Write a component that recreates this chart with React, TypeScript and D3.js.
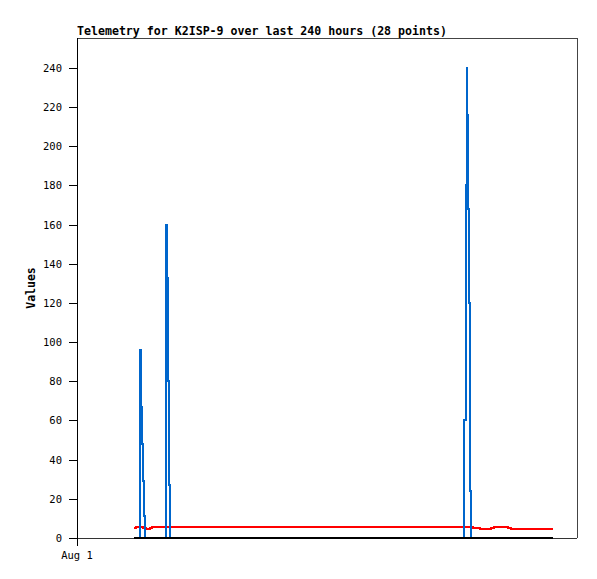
import React from 'react';
import * as d3 from 'd3';

// hours since Aug 1 00:00
const redHours = [32.7, 33.9, 37.9, 39.6, 41.9, 43.1, 227.5, 231.1, 237.8, 239.4, 247.2, 249.1, 273.1];
const redValues = [5.3, 5.8, 5.3, 4.8, 5.3, 5.8, 5.3, 4.6, 5.3, 5.8, 5.3, 4.6, 4.6];

const blueHours = [32.7, 36.0, 36.6, 36.9, 37.3, 37.7, 38.3, 38.9, 51.3, 51.8, 52.2, 52.6, 53.4,
  222.3, 223.1, 223.6, 224.0, 224.3, 224.9, 225.4, 225.8, 226.2, 273.1];
const blueValues = [0, 96, 87, 67, 48, 29, 11, 0, 160, 133, 80, 27, 0,
  60, 180, 240, 216, 168, 120, 72, 24, 0, 0];

const blackHours = [32.7, 273.1];
const blackValues = [0, 0];

const yTicks = [0, 20, 40, 60, 80, 100, 120, 140, 160, 180, 200, 220, 240];
const xTickLabels = ['Aug 1'];
const title = 'Telemetry for K2ISP-9 over last 240 hours (28 points)';

const mono = '"DejaVu Sans Mono", monospace';

const App = () => {
  const left = 77, top = 38, right = 577, bottom = 538;
  const t0 = new Date(2024, 7, 1, 0, 0);
  const toDate = (h: number) => new Date(t0.getTime() + h * 3600000);

  const x = d3.scaleTime().domain([t0, toDate(287)]).range([left, right]);
  const y = d3.scaleLinear().domain([0, 255.3]).range([bottom, top]);

  const line = d3.line<[number, number]>()
    .x(d => x(toDate(d[0])))
    .y(d => y(d[1]))
    .curve(d3.curveStepAfter);

  const zip = (hs: number[], vs: number[]) => hs.map((h, i) => [h, vs[i]] as [number, number]);

  return (
    <svg width={597} height={579} style={{ display: 'block', position: 'absolute', left: 0, top: 0 }}>
      <rect x={0} y={0} width={597} height={579} fill="#fff" />
      <text x={left} y={34.5} fontFamily={mono} fontWeight="bold" fontSize={11.6} fill="#000">{title}</text>
      <text transform={`translate(35,${(top + bottom) / 2}) rotate(-90)`} textAnchor="middle"
        fontFamily={mono} fontWeight="bold" fontSize={11.5} fill="#000">Values</text>

      {/* frame */}
      <path d={`M${left},${top + 0.5}H${right + 0.5}V${bottom}`} fill="none" stroke="#444" strokeWidth={1} shapeRendering="crispEdges" />
      <line x1={left} x2={right} y1={bottom + 0.5} y2={bottom + 0.5} stroke="#333" shapeRendering="crispEdges" />
      <line x1={left + 0.5} x2={left + 0.5} y1={top} y2={bottom + 8} stroke="#000" shapeRendering="crispEdges" />

      {yTicks.map(v => (
        <g key={v}>
          <line x1={69} x2={left} y1={Math.round(y(v)) + 0.5} y2={Math.round(y(v)) + 0.5} stroke="#000" shapeRendering="crispEdges" />
          <text x={62} y={y(v) + 4} textAnchor="end" fontFamily={mono} fontSize={10.5} fill="#000">{v}</text>
        </g>
      ))}
      {xTickLabels.map(l => (
        <text key={l} x={left} y={559} textAnchor="middle" fontFamily={mono} fontSize={10.5} fill="#000">{l}</text>
      ))}

      <path d={line(zip(redHours, redValues)) ?? ''} fill="none" stroke="#ff0000" strokeWidth={2} shapeRendering="crispEdges" />
      <path d={line(zip(blueHours, blueValues)) ?? ''} fill="none" stroke="#0066cc" strokeWidth={2} shapeRendering="crispEdges" />
      <path d={line(zip(blackHours, blackValues)) ?? ''} fill="none" stroke="#000" strokeWidth={2.5} shapeRendering="crispEdges" />
    </svg>
  );
};

export default App;
